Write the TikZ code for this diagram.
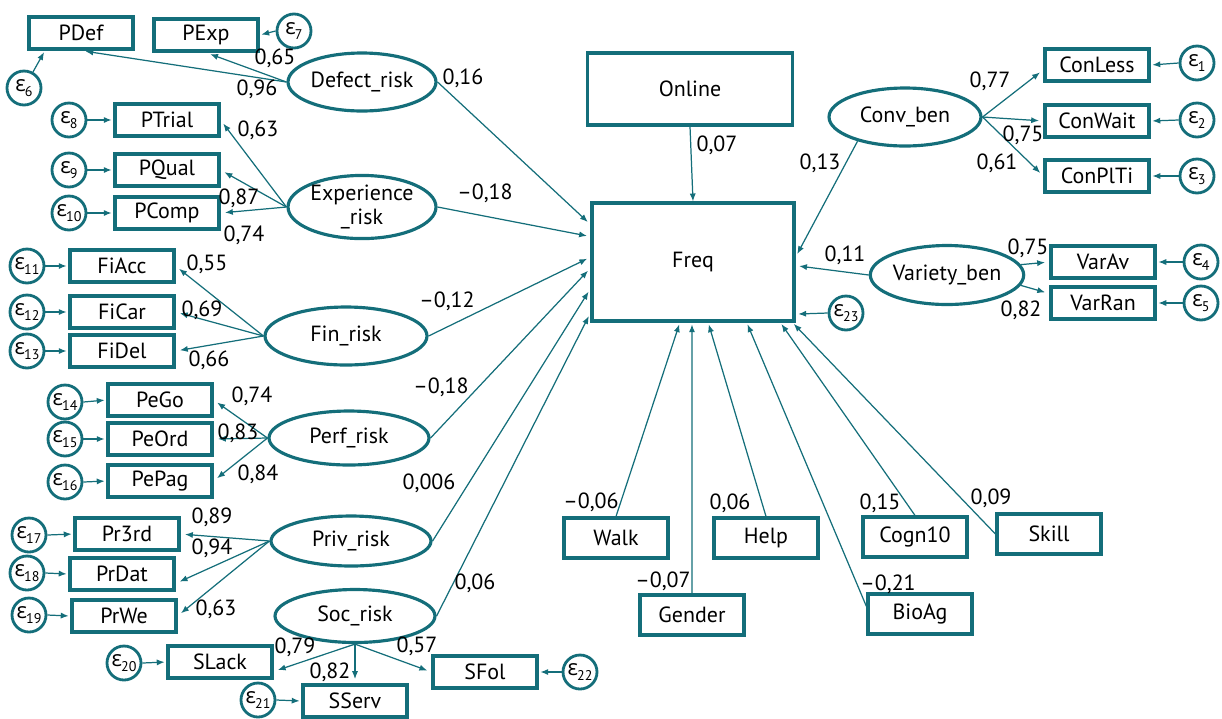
\documentclass[tikz,border=0pt]{standalone}
\usepackage{fontspec}
\setmainfont{PT Sans}
\newfontfamily\grk{Open Sans}
\usetikzlibrary{shapes.geometric,arrows.meta,calc}
\definecolor{semteal}{RGB}{20,110,122}
\newcommand\epsn[1]{{\grk ε}\kern-0.5pt\raisebox{-2.5pt}{\fontsize{8}{8}\selectfont #1}}
\begin{document}
\begin{tikzpicture}[x=0.02cm,y=-0.02cm, font=\fontsize{12.5}{13}\selectfont,
 obs/.style={draw=semteal, line width=1.8pt, minimum width=2.08cm, minimum height=0.64cm, inner sep=0pt},
 bigobs/.style={obs, minimum height=0.8cm},
 lat/.style={draw=semteal, line width=1.8pt, ellipse, inner sep=0pt, align=center},
 err/.style={draw=semteal, line width=1.6pt, circle, minimum size=0.68cm, inner sep=0pt},
 arr/.style={draw=semteal, line width=0.7pt, -{Latex[length=4.5pt,width=3.5pt]}},
 ind/.style={arr, shorten >=2.5pt},
 ein/.style={arr, shorten >=1pt},
 lbl/.style={inner sep=0pt}]
\useasboundingbox (0,0) rectangle (1222,718);

% central
\node[obs, minimum width=4.1cm, minimum height=1.44cm] (online) at (690,89) {Online};
\node[obs, minimum width=4.04cm, minimum height=2.36cm] (freq) at (693,262) {Freq};
\node[err] (e23) at (846,313) {\epsn{23}};

% latent variables
\node[lat, minimum width=2.96cm, minimum height=1.16cm] (defect) at (362,82) {Defect\_risk};
\node[lat, minimum width=2.96cm, minimum height=1.12cm] (exper) at (362,207) {Experience\\[1pt]\_risk};
\node[lat, minimum width=3.24cm, minimum height=1.16cm] (fin) at (346,336) {Fin\_risk};
\node[lat, minimum width=3.2cm, minimum height=1.08cm] (perf) at (349,438) {Perf\_risk};
\node[lat, minimum width=3.2cm, minimum height=1.0cm] (priv) at (351,541) {Priv\_risk};
\node[lat, minimum width=3.2cm, minimum height=1.06cm] (soc) at (355,616) {Soc\_risk};
\node[lat, minimum width=3.04cm, minimum height=1.16cm] (conv) at (905,117) {Conv\_ben};
\node[lat, minimum width=3.04cm, minimum height=1.18cm] (variety) at (947,275) {Variety\_ben};

% indicators left
\node[obs] (pdef) at (81,33) {PDef};
\node[obs] (pexp) at (206,35) {PExp};
\node[err] (e6) at (24,88) {\epsn{6}};
\node[err] (e7) at (294,31) {\epsn{7}};

\node[obs] (ptrial) at (167,120) {PTrial};
\node[obs] (pqual) at (167,170) {PQual};
\node[obs] (pcomp) at (167,213) {PComp};
\node[err] (e8) at (69,120) {\epsn{8}};
\node[err] (e9) at (69,170) {\epsn{9}};
\node[err] (e10) at (69,213) {\epsn{10}};

\node[obs] (fiacc) at (122,266) {FiAcc};
\node[obs] (ficar) at (122,312) {FiCar};
\node[obs] (fidel) at (122,351) {FiDel};
\node[err] (e11) at (27,266) {\epsn{11}};
\node[err] (e12) at (27,312) {\epsn{12}};
\node[err] (e13) at (27,351) {\epsn{13}};

\node[obs] (pego) at (160,400) {PeGo};
\node[obs] (peord) at (160,439) {PeOrd};
\node[obs] (pepag) at (160,481) {PePag};
\node[err] (e14) at (65,402) {\epsn{14}};
\node[err] (e15) at (65,439) {\epsn{15}};
\node[err] (e16) at (65,482) {\epsn{16}};

\node[obs] (pr3rd) at (127,534) {Pr3rd};
\node[obs] (prdat) at (122,574) {PrDat};
\node[obs] (prwe) at (124,616) {PrWe};
\node[err] (e17) at (29,535) {\epsn{17}};
\node[err] (e18) at (27,573) {\epsn{18}};
\node[err] (e19) at (29,615) {\epsn{19}};

\node[obs] (slack) at (220,662) {SLack};
\node[obs] (sserv) at (355,701) {SServ};
\node[obs] (sfol) at (485,672) {SFol};
\node[err] (e20) at (124,663) {\epsn{20}};
\node[err] (e21) at (258,700) {\epsn{21}};
\node[err] (e22) at (580,672) {\epsn{22}};

% indicators right
\node[obs] (conless) at (1097,65) {ConLess};
\node[obs] (conwait) at (1097,121) {ConWait};
\node[obs] (conplti) at (1097,176) {ConPlTi};
\node[err] (e1) at (1197,63) {\epsn{1}};
\node[err] (e2) at (1197,120) {\epsn{2}};
\node[err] (e3) at (1197,176) {\epsn{3}};
\node[obs] (varav) at (1103,262) {VarAv};
\node[obs] (varran) at (1103,303) {VarRan};
\node[err] (e4) at (1201,262) {\epsn{4}};
\node[err] (e5) at (1201,303) {\epsn{5}};

% exogenous bottom
\node[bigobs] (walk) at (616,538) {Walk};
\node[bigobs] (gender) at (692,615) {Gender};
\node[bigobs] (help) at (766,538) {Help};
\node[bigobs] (cogn) at (915,537) {Cogn10};
\node[bigobs] (bioag) at (920,614) {BioAg};
\node[bigobs] (skill) at (1049,534) {Skill};

% ---- structural paths into Freq
\draw[arr] (online.south) -- (freq.north);
\draw[arr, shorten >=2pt] (defect.east) -- ($(freq.north west)!0.19!(freq.south west)$);
\draw[arr, shorten >=2pt] (exper.east) -- ($(freq.north west)!0.29!(freq.south west)$);
\draw[arr, shorten >=2pt] (fin.east) -- ($(freq.north west)!0.46!(freq.south west)$);
\draw[arr, shorten >=2pt] (perf.east) -- ($(freq.north west)!0.55!(freq.south west)$);
\draw[arr, shorten >=2pt] (priv.east) -- ($(freq.north west)!0.72!(freq.south west)$);
\draw[arr, shorten >=2pt] (soc.east) -- ($(freq.north west)!0.92!(freq.south west)$);
\draw[arr, shorten >=2pt] (conv.207) -- ($(freq.north east)!0.46!(freq.south east)$);
\draw[arr, shorten >=2pt] (variety.west) -- ($(freq.north east)!0.53!(freq.south east)$);
\draw[arr, shorten >=1.5pt] (e23.west) -- ($(freq.north east)!0.93!(freq.south east)$);
\draw[arr, shorten >=1pt] (walk.north) -- ($(freq.south west)!0.436!(freq.south east)$);
\draw[arr, shorten >=1pt] (gender.north) -- ($(freq.south west)!0.495!(freq.south east)$);
\draw[arr, shorten >=1pt] (help.north) -- ($(freq.south west)!0.574!(freq.south east)$);
\draw[arr, shorten >=1pt] (bioag.172) -- ($(freq.south west)!0.762!(freq.south east)$);
\draw[arr, shorten >=1pt] (cogn.north) -- ($(freq.south west)!0.926!(freq.south east)$);
\draw[arr, shorten >=1pt] (skill.west) -- ($(freq.south west)!0.985!(freq.south east)$);

% ---- measurement paths
\draw[ind] (defect.west) -- (pdef.south);
\draw[ind] (defect.west) -- (pexp.south);
\draw[ein] (e6) -- (pdef.206);
\draw[ein] (e7.west) -- (pexp.east);

\draw[ind] (exper.west) -- (ptrial.east);
\draw[ind] (exper.west) -- (pqual.east);
\draw[ind] (exper.west) -- (pcomp.east);
\draw[ein] (e8.east) -- (ptrial.west);
\draw[ein] (e9.east) -- (pqual.west);
\draw[ein] (e10.east) -- (pcomp.west);

\draw[ind] (fin.west) -- (fiacc.east);
\draw[ind] (fin.west) -- (ficar.east);
\draw[ind] (fin.west) -- (fidel.east);
\draw[ein] (e11.east) -- (fiacc.west);
\draw[ein] (e12.east) -- (ficar.west);
\draw[ein] (e13.east) -- (fidel.west);

\draw[ind] (perf.west) -- (pego.east);
\draw[ind] (perf.west) -- (peord.east);
\draw[ind] (perf.west) -- (pepag.east);
\draw[ein] (e14.east) -- (pego.west);
\draw[ein] (e15.east) -- (peord.west);
\draw[ein] (e16.east) -- (pepag.west);

\draw[ind] (priv.west) -- (pr3rd.east);
\draw[ind] (priv.west) -- (prdat.-10);
\draw[ind] (priv.west) -- (prwe.east);
\draw[ein] (e17.east) -- (pr3rd.west);
\draw[ein] (e18.east) -- (prdat.west);
\draw[ein] (e19.east) -- (prwe.west);

\draw[ind] (soc.south) -- (slack.-10);
\draw[ind] (soc.south) -- (sserv.north);
\draw[ind] (soc.south) -- (sfol.west);
\draw[ein] (e20.east) -- (slack.west);
\draw[ein] (e21.east) -- (sserv.west);
\draw[ein] (e22.west) -- (sfol.east);

\draw[ind] (conv.east) -- (conless.185);
\draw[ind] (conv.east) -- (conwait.west);
\draw[ind] (conv.east) -- (conplti.west);
\draw[ein] (e1.west) -- (conless.east);
\draw[ein] (e2.west) -- (conwait.east);
\draw[ein] (e3.west) -- (conplti.east);
\draw[ind] (variety.8) -- (varav.west);
\draw[ind] (variety.-8) -- (varran.170);
\draw[ein] (e4.west) -- (varav.east);
\draw[ein] (e5.west) -- (varran.east);

% ---- coefficient labels
\node[lbl] (l1) at (275,58) {0,65};
\node[lbl] (l2) at (257,89) {0,96};
\node[lbl] (l3) at (463,78) {0,16};
\node[lbl] (l4) at (258,130) {0,63};
\node[lbl] (l5) at (239,198) {0,87};
\node[lbl] (l6) at (244,235) {0,74};
\node[lbl] (l7) at (485,193) {–0,18};
\node[lbl] (l8) at (207,264) {0,55};
\node[lbl] (l9) at (202,310) {0,69};
\node[lbl] (l10) at (209,360) {0,66};
\node[lbl] (l11) at (447,301) {–0,12};
\node[lbl] (l12) at (252,396) {0,74};
\node[lbl] (l13) at (238,433) {0,83};
\node[lbl] (l14) at (258,474) {0,84};
\node[lbl] (l15) at (441,387) {–0,18};
\node[lbl] (l16) at (429,483) {0,006};
\node[lbl] (l17) at (212,517) {0,89};
\node[lbl] (l18) at (212,548) {0,94};
\node[lbl] (l19) at (216,609) {0,63};
\node[lbl] (l20) at (475,583) {0,06};
\node[lbl] (l21) at (295,647) {0,79};
\node[lbl] (l22) at (330,672) {0,82};
\node[lbl] (l23) at (417,646) {0,57};
\node[lbl] (l24) at (717,145) {0,07};
\node[lbl] (l25) at (820,163) {0,13};
\node[lbl] (l26) at (990,81) {0,77};
\node[lbl] (l27) at (1023,135) {0,75};
\node[lbl] (l28) at (997,163) {0,61};
\node[lbl] (l29) at (845,255) {0,11};
\node[lbl] (l30) at (1028,248) {0,75};
\node[lbl] (l31) at (1021,310) {0,82};
\node[lbl] (l32) at (591,502) {–0,06};
\node[lbl] (l33) at (663,581) {–0,07};
\node[lbl] (l34) at (730,503) {0,06};
\node[lbl] (l35) at (880,503) {0,15};
\node[lbl] (l36) at (991,498) {0,09};
\node[lbl] (l37) at (888,584) {–0,21};
\end{tikzpicture}
\end{document}
